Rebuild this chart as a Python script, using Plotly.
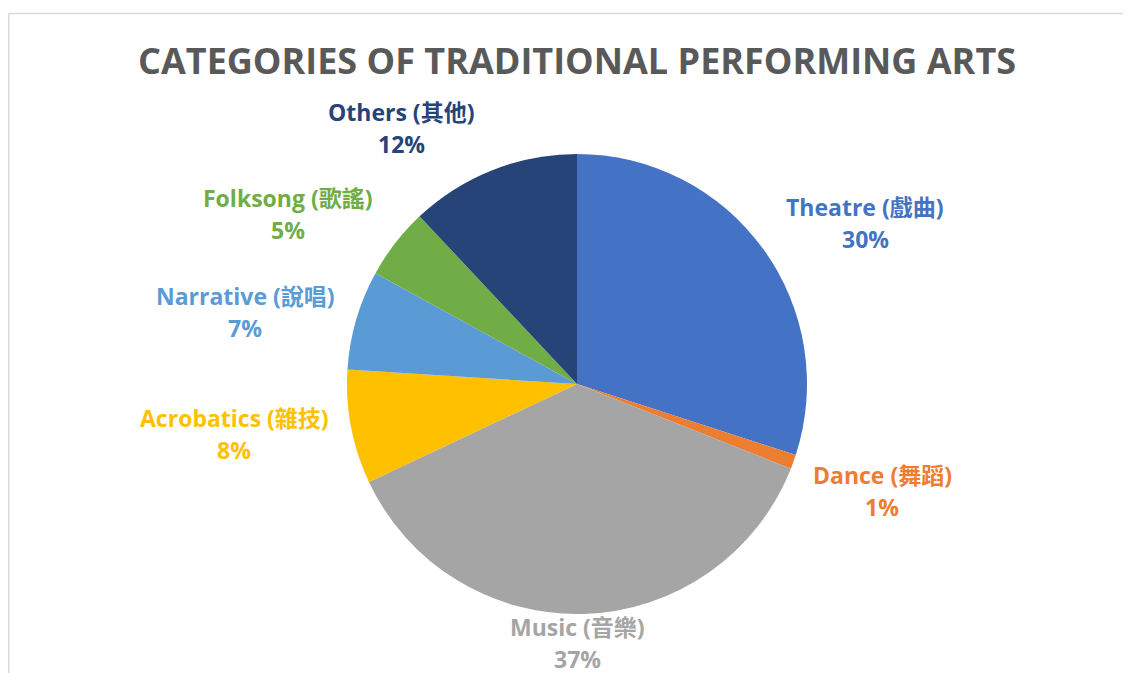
import plotly.graph_objects as go

# ---- data ----
categories = ["Theatre (戲曲)", "Dance (舞蹈)", "Music (音樂)", "Acrobatics (雜技)",
              "Narrative (說唱)", "Folksong (歌謠)", "Others (其他)"]
shares = [30, 1, 37, 8, 7, 5, 12]
colors = ["#4472C4", "#ED7D31", "#A5A5A5", "#FFC000", "#5B9BD5", "#70AD47", "#264478"]
# label anchor positions (screen pixels: x, y of the name line)
label_pos = [(865, 207), (882, 475), (577, 627), (234, 418), (245, 296), (288, 198), (401, 112)]

OFF = 8  # page body margin
W, H = 1131 - OFF, 673 - OFF
FONT = "Open Sans, Noto Sans CJK TC, sans-serif"


def px(x):
    return (x - OFF) / W


def py(y):
    return 1 - (y - OFF) / H


cx, cy, r = 577, 384, 230

fig = go.Figure(go.Pie(
    labels=categories,
    values=shares,
    sort=False,
    direction="clockwise",
    rotation=0,
    marker=dict(colors=colors, line=dict(width=0)),
    textinfo="none",
    hoverinfo="label+percent",
    showlegend=False,
    domain=dict(x=[px(cx - r), px(cx + r)], y=[py(cy + r), py(cy - r)]),
))

total = sum(shares)
annotations = []
for name, v, col, (lx, ly) in zip(categories, shares, colors, label_pos):
    pct = f"{round(100 * v / total)}%"
    for txt, yy in ((name, ly), (pct, ly + 32)):
        annotations.append(dict(
            text=f"<b>{txt}</b>", x=px(lx), y=py(yy), xref="paper", yref="paper",
            xanchor="center", yanchor="middle", showarrow=False,
            font=dict(family=FONT, size=23, color=col),
        ))

annotations.append(dict(
    text="<b>CATEGORIES OF TRADITIONAL PERFORMING ARTS</b>",
    x=px(577), y=py(61), xref="paper", yref="paper",
    xanchor="center", yanchor="middle", showarrow=False,
    font=dict(family=FONT, size=36, color="#595959"),
))

fig.update_layout(
    width=W, height=H,
    margin=dict(l=0, r=0, t=0, b=0),
    paper_bgcolor="white",
    plot_bgcolor="white",
    annotations=annotations,
    shapes=[
        dict(type="line", xref="paper", yref="paper", x0=px(8.75), x1=1.0, y0=py(13.5), y1=py(13.5),
             line=dict(color="#D9D9D9", width=1.5)),
        dict(type="line", xref="paper", yref="paper", x0=px(8.75), x1=px(8.75), y0=0, y1=py(13.5),
             line=dict(color="#D9D9D9", width=1.5)),
    ],
)

fig.write_html("out.html")
